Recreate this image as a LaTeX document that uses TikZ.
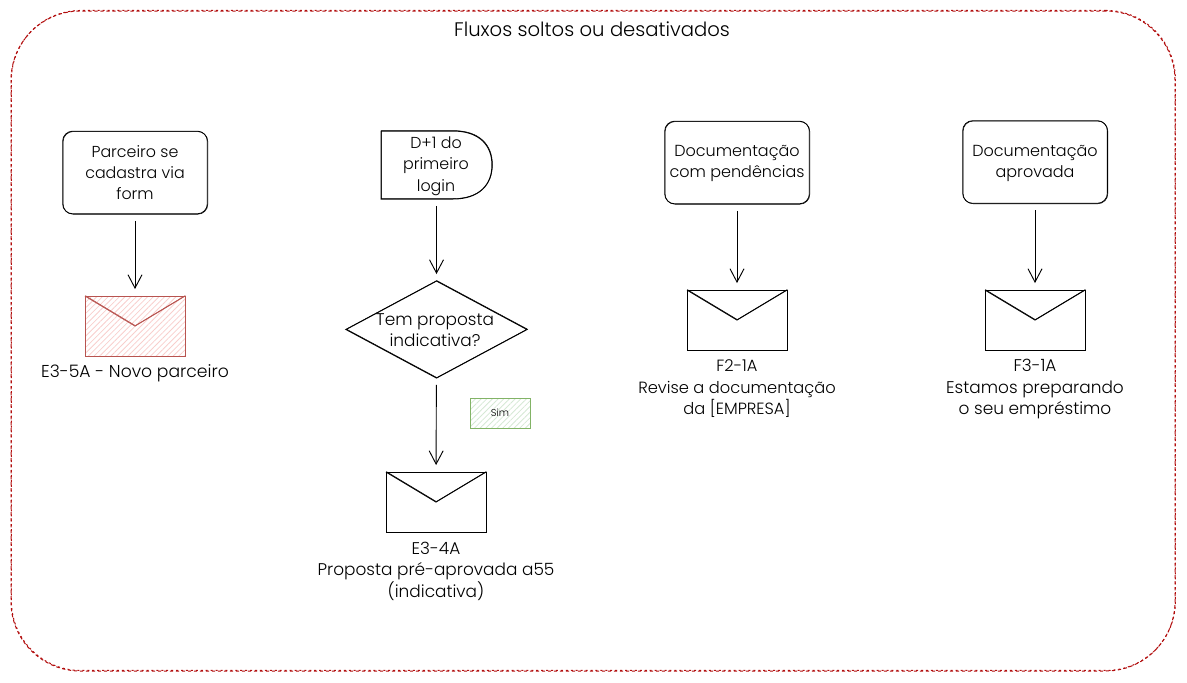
\documentclass[tikz,border=0pt]{standalone}
\usepackage{fontspec}
\setmainfont{Poppins}[UprightFont=* Light]
\usetikzlibrary{arrows.meta,patterns.meta,calc}
\definecolor{frameRed}{HTML}{B20E0E}
\definecolor{hatchRed}{HTML}{F8CECC}
\definecolor{lineRed}{HTML}{B85450}
\definecolor{hatchGreen}{HTML}{D5E8D4}
\definecolor{lineGreen}{HTML}{82B366}
\tikzset{
  sketch/.style={draw,line width=.6pt,postaction={draw,line width=.4pt,transform canvas={xshift=.35pt,yshift=-.3pt}}},
  txt/.style={align=center,inner sep=0pt,outer sep=0pt,font=\fontsize{12.1pt}{16.1pt}\selectfont},
  boxtxt/.style={align=center,inner sep=0pt,outer sep=0pt,font=\fontsize{11.9pt}{16.1pt}\selectfont},
  framebox/.style={rectangle,draw=frameRed,line width=.75pt,dashed,dash pattern=on 2.5pt off 2pt,rounded corners=52pt,minimum width=873pt,minimum height=495pt,inner sep=0pt,outer sep=0pt,
    postaction={draw=frameRed,dash pattern=on 1.5pt off 2.2pt,transform canvas={xshift=.3pt,yshift=.4pt}}},
  procbox/.style={boxtxt,rectangle,sketch,rounded corners=7.5pt,minimum width=108.5pt,minimum height=62pt},
  mailbox/.style={rectangle,sketch,inner sep=0pt,outer sep=0pt,minimum width=75pt,minimum height=45pt},
  mailred/.style={mailbox,draw=lineRed,pattern={Lines[angle=45,distance=3pt,line width=.6pt]},pattern color=hatchRed},
  tagbox/.style={rectangle,draw=lineGreen,line width=.75pt,pattern={Lines[angle=45,distance=3pt,line width=.6pt]},pattern color=hatchGreen,minimum width=45pt,minimum height=22.5pt,inner sep=0pt,outer sep=0pt},
  blank/.style={boxtxt,rectangle},
  flap/.style={line width=.75pt,postaction={draw,line width=.35pt,transform canvas={xshift=.3pt,yshift=.3pt}}},
  flow/.style={line width=.7pt,-{Straight Barb[length=10pt,width=10.5pt,line width=.7pt]},shorten <=5.2pt,shorten >=5.2pt},
}
\begin{document}
\begin{tikzpicture}[x=.75pt,y=-.75pt]
\useasboundingbox (0,0) rectangle (1187,682);
\node[framebox] (frame) at (593,341) {};
\node[txt,font=\fontsize{14.7pt}{18pt}\selectfont] (title) at (592,29.5) {Fluxos soltos ou desativados};

\node[procbox,text depth=0pt] (a1) at (135,172.5) {Parceiro se\\cadastra via\\form};
\node[mailred] (m1) at (135,326) {};
\draw[lineRed,flap] (m1.north west) -- (m1.center) -- (m1.north east);
\node[txt,font=\fontsize{12.9pt}{16.1pt}\selectfont] (l1) at (135,373) {E3-5A - Novo parceiro};

\node[blank,minimum width=83.25pt,minimum height=51pt] (d0) at (436.5,165) {};
\node[boxtxt] (d0t) at (436,166) {D+1 do\\primeiro\\login};
\draw[flap] (d0.north west) -- ++(72,0) coordinate (dc1)
  .. controls ($(dc1)+(26,0)$) and ($(d0.east)+(0,-20)$) .. (d0.east)
  .. controls ($(d0.east)+(0,20)$) and ($(d0.south east)+(-13,0)$) .. ($(d0.south east)+(-39,0)$)
  -- (d0.south west) -- cycle;
\node[blank,minimum width=135.75pt,minimum height=72.75pt] (q) at (436.5,329.5) {};
\node[txt,font=\fontsize{12.7pt}{16.1pt}\selectfont] (qt) at (435,330) {Tem proposta\\indicativa?};
\draw[flap] (q.north) -- (q.east) -- (q.south) -- (q.west) -- cycle;
\node[mailbox] (m2) at (436,502) {};
\draw[flap] (m2.north west) -- (m2.center) -- (m2.north east);
\node[txt,font=\fontsize{12.7pt}{16.1pt}\selectfont] (l2) at (436,571) {E3-4A\\Proposta pré-aprovada a55\\(indicativa)};
\node[tagbox] (sim) at (500,413) {};
\node[txt,font=\fontsize{7.5pt}{9pt}\selectfont] (simt) at (sim.center) {Sim};

\node[procbox] (a3) at (737,162.5) {};
\node[boxtxt,font=\fontsize{12pt}{16.1pt}\selectfont] (a3t) at (737,163.5) {Documentação\\com pendências};
\node[mailbox] (m3) at (737,320) {};
\draw[flap] (m3.north west) -- (m3.center) -- (m3.north east);
\node[txt,font=\fontsize{12.2pt}{16.1pt}\selectfont] (l3) at (737,389) {F2-1A\\Revise a documentação\\da [EMPRESA]};

\node[procbox] (a4) at (1035,162) {};
\node[boxtxt,font=\fontsize{12pt}{16.1pt}\selectfont] (a4t) at (1035,163.5) {Documentação\\aprovada};
\node[mailbox] (m4) at (1035,320) {};
\draw[flap] (m4.north west) -- (m4.center) -- (m4.north east);
\node[txt,font=\fontsize{12.7pt}{16.1pt}\selectfont] (l4) at (1035,389) {F3-1A\\Estamos preparando\\o seu empréstimo};

\draw[flow] (a1) -- (m1);
\draw[flow] (d0) -- (q);
\draw[flow] (q) -- (m2);
\draw[flow] (a3) -- (m3);
\draw[flow] (a4) -- (m4);
\end{tikzpicture}
\end{document}
